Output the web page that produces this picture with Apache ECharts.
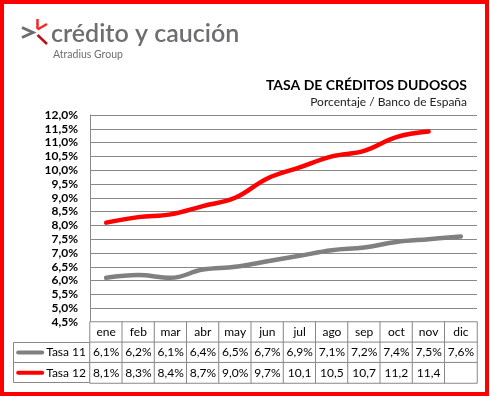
<!DOCTYPE html>
<html>
<head>
<meta charset="utf-8">
<script src="https://cdn.jsdelivr.net/npm/echarts@6/dist/echarts.min.js"></script>
<style>
  html, body { margin: 0; padding: 0; background: #fff; }
  #chart { width: 490px; height: 398px; }
</style>
</head>
<body>
<div id="chart"></div>
<script>
// datos
var months = ['ene', 'feb', 'mar', 'abr', 'may', 'jun', 'jul', 'ago', 'sep', 'oct', 'nov', 'dic'];
var seriesNames = ['Tasa 11', 'Tasa 12'];
var tasa11 = [6.1, 6.2, 6.1, 6.4, 6.5, 6.7, 6.9, 7.1, 7.2, 7.4, 7.5, 7.6];
var tasa12 = [8.1, 8.3, 8.4, 8.7, 9.0, 9.7, 10.1, 10.5, 10.7, 11.2, 11.4];
var colors = ['#808080', '#ff0000'];

var FONT = 'Lato';

// Excel corta el % cuando no cabe en la celda
function fmtCell(v) {
  if (v == null) return '';
  var s = v.toFixed(1).replace('.', ',');
  return v >= 10 ? s : s + '%';
}

// celdas de la tabla de datos
var tableData = [];
for (var i = 0; i < months.length; ++i) {
  tableData.push({ value: [i, 0, 1], name: months[i] });
  tableData.push({ value: [i, 1, 1], name: fmtCell(tasa11[i]) });
  tableData.push({ value: [i, 2, 1], name: fmtCell(tasa12[i]) });
}

var chart = echarts.init(document.getElementById('chart'), null, { renderer: 'canvas' });

var option = {
  backgroundColor: '#fff',
  animation: false,
  textStyle: { fontFamily: FONT },
  title: [{
    text: 'TASA DE CRÉDITOS DUDOSOS',
    right: 18,
    top: 73,
    textStyle: { fontFamily: FONT, fontSize: 14, fontWeight: 'bold', color: '#000' }
  }, {
    text: 'Porcentaje / Banco de España',
    right: 18,
    top: 91,
    textStyle: { fontFamily: FONT, fontSize: 12, fontWeight: 'normal', color: '#222' }
  }],
  grid: [
    { left: 90, right: 13, top: 115, bottom: 76 },
    { left: 90, right: 13, top: 322, bottom: 15 }
  ],
  xAxis: [{
    gridIndex: 0,
    type: 'category',
    data: months,
    boundaryGap: true,
    axisLine: { show: true, lineStyle: { color: '#888' } },
    axisTick: { show: false },
    axisLabel: { show: false }
  }, {
    gridIndex: 1,
    type: 'category',
    data: months,
    axisLine: { show: false },
    axisTick: { show: false },
    axisLabel: { show: false }
  }],
  yAxis: [{
    gridIndex: 0,
    type: 'value',
    min: 4.5,
    max: 12,
    interval: 0.5,
    axisLine: { show: true, lineStyle: { color: '#888' } },
    axisTick: { show: false },
    splitLine: { lineStyle: { color: '#888', width: 1 } },
    axisLabel: {
      margin: 12,
      fontFamily: FONT,
      fontSize: 12,
      fontWeight: 'bold',
      color: '#000',
      formatter: function (v) { return v.toFixed(1).replace('.', ',') + '%'; }
    }
  }, {
    gridIndex: 1,
    type: 'category',
    inverse: true,
    data: [''].concat(seriesNames),
    axisLine: { show: false },
    axisTick: { show: false },
    axisLabel: {
      margin: 4,
      fontFamily: FONT,
      fontSize: 12,
      color: '#000',
      formatter: function (v, idx) {
        if (idx === 1) return '{g|}{t|' + v + '}';
        if (idx === 2) return '{r|}{t|' + v + '}';
        return '';
      },
      rich: {
        g: { width: 28, height: 4, backgroundColor: colors[0], borderRadius: 2 },
        r: { width: 28, height: 4, backgroundColor: colors[1], borderRadius: 2 },
        t: { fontFamily: FONT, fontSize: 12, color: '#000', padding: [0, 0, 0, 2] }
      }
    }
  }],
  series: [{
    name: seriesNames[0],
    type: 'line',
    xAxisIndex: 0,
    yAxisIndex: 0,
    data: tasa11,
    smooth: 0.4,
    symbol: 'none',
    lineStyle: { width: 4.5, color: colors[0], cap: 'round' },
    itemStyle: { color: colors[0] }
  }, {
    name: seriesNames[1],
    type: 'line',
    xAxisIndex: 0,
    yAxisIndex: 0,
    data: tasa12,
    smooth: 0.4,
    symbol: 'none',
    lineStyle: { width: 4.5, color: colors[1], cap: 'round' },
    itemStyle: { color: colors[1] }
  }, {
    type: 'heatmap',
    xAxisIndex: 1,
    yAxisIndex: 1,
    data: tableData,
    itemStyle: { color: '#fff', borderColor: '#888', borderWidth: 1 },
    emphasis: { disabled: true },
    label: {
      show: true,
      fontFamily: FONT,
      fontSize: 12,
      color: '#000',
      formatter: function (p) { return p.name; }
    }
  }],
  graphic: [
    // marco rojo
    { type: 'rect', shape: { x: 2, y: 2, width: 485, height: 392 }, style: { fill: null, stroke: '#ff0000', lineWidth: 4 }, z: 100 },
    // celdas de la leyenda
    { type: 'rect', shape: { x: 13.5, y: 342.5, width: 76.5, height: 20 }, style: { fill: null, stroke: '#888', lineWidth: 1 } },
    { type: 'rect', shape: { x: 13.5, y: 362.5, width: 76.5, height: 20 }, style: { fill: null, stroke: '#888', lineWidth: 1 } },
    // logo
    { type: 'polyline', shape: { points: [[22, 27.5], [33, 32.5], [22, 37.5]] }, style: { stroke: '#6d6e71', lineWidth: 3, fill: null } },
    { type: 'polyline', shape: { points: [[37.5, 19], [37.5, 29]] }, style: { stroke: '#ee2a24', lineWidth: 2.5 } },
    { type: 'polyline', shape: { points: [[37.5, 29.5], [47, 24]] }, style: { stroke: '#ee2a24', lineWidth: 2.5 } },
    { type: 'polyline', shape: { points: [[37.5, 35], [47, 44]] }, style: { stroke: '#b5121b', lineWidth: 2.5 } },
    { type: 'text', left: 51, top: 21, style: { text: 'crédito y caución', fontFamily: FONT, fontSize: 25, fontWeight: 600, fill: '#6d6e71' } },
    { type: 'text', left: 53, top: 49, style: { text: 'Atradius Group', fontFamily: FONT, fontSize: 10.5, fill: '#6d6e71' } }
  ]
};

chart.setOption(option);
</script>
</body>
</html>
